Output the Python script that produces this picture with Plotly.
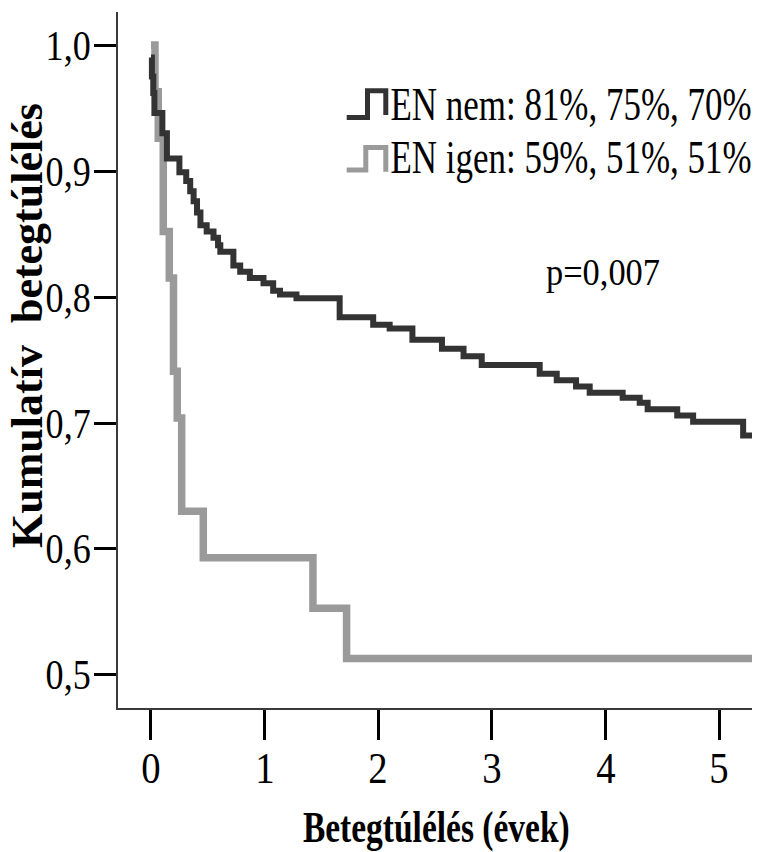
import json
import plotly.graph_objects as go

# ---------------- data ----------------
# Kaplan-Meier steps, "EN nem" group: time of step (years) and survival after it
t_nem = [0.0, 0.008, 0.02, 0.03, 0.10, 0.14, 0.25, 0.31, 0.345, 0.375, 0.405,
         0.435, 0.49, 0.55, 0.59, 0.61, 0.725, 0.785, 0.87, 0.99, 1.075, 1.135,
         1.28, 1.66, 1.955, 2.10, 2.30, 2.56, 2.75, 2.91, 3.42, 3.57, 3.74,
         3.86, 4.15, 4.30, 4.37, 4.63, 4.77, 5.21, 5.288]
s_nem = [0.990, 0.975, 0.962, 0.946, 0.930, 0.910, 0.899, 0.892, 0.884, 0.876,
         0.867, 0.857, 0.852, 0.847, 0.841, 0.836, 0.825, 0.820, 0.815, 0.811,
         0.805, 0.802, 0.799, 0.784, 0.778, 0.775, 0.766, 0.759, 0.753, 0.746,
         0.739, 0.734, 0.729, 0.724, 0.720, 0.716, 0.711, 0.706, 0.701, 0.690,
         0.690]

# "EN igen" group
t_igen = [0.0, 0.035, 0.064, 0.108, 0.161, 0.198, 0.231, 0.27, 0.46, 1.425,
          1.721, 5.288]
s_igen = [1.000, 0.963, 0.926, 0.852, 0.815, 0.741, 0.704, 0.630, 0.593,
          0.553, 0.513, 0.513]

x_tickvals = [0, 1, 2, 3, 4, 5]
x_ticktext = ["0", "1", "2", "3", "4", "5"]
y_tickvals = [0.5, 0.6, 0.7, 0.8, 0.9, 1.0]
y_ticktext = ["0,5", "0,6", "0,7", "0,8", "0,9", "1,0"]

legend_labels = ["EN nem: 81%, 75%, 70%", "EN igen: 59%, 51%, 51%"]
p_label = "p=0,007"
x_title = "Betegtúlélés (évek)"
y_title = "Kumulatív  betegtúlélés"

# ---------------- style / layout ----------------
W, H = 758, 852
ML, MR, MT, MB = 118, 6, 12, 144
PW, PH = W - ML - MR, H - MT - MB
DARK = "#333333"
GRAY = "#9a9a9a"
FONT = "Liberation Serif"


def px(xp):
    return (xp - ML) / PW


def py(yp):
    return (H - MB - yp) / PH


fig = go.Figure()
fig.add_trace(go.Scatter(x=t_igen, y=s_igen, mode="lines", name=legend_labels[1],
                         line=dict(color=GRAY, width=7.5, shape="hv")))
fig.add_trace(go.Scatter(x=t_nem, y=s_nem, mode="lines", name=legend_labels[0],
                         line=dict(color=DARK, width=6, shape="hv")))


def step_glyph(x0, x1, x2, yb, yt, ye, color):
    path = (f"M {px(x0)},{py(yb)} L {px(x1)},{py(yb)} L {px(x1)},{py(yt)} "
            f"L {px(x2)},{py(yt)} L {px(x2)},{py(ye)}")
    return dict(type="path", xref="paper", yref="paper", path=path,
                line=dict(color=color, width=5))


shapes = [
    step_glyph(346.7, 367.5, 385.8, 117.5, 90.8, 115.0, DARK),
    step_glyph(346.7, 365.8, 385.8, 170.0, 147.5, 171.7, GRAY),
]

annotations = []
squeeze = []   # horizontal condensing factor per annotation (reference type is condensed)


def add_ann(factor, **kw):
    base = dict(showarrow=False, borderpad=0)
    base.update(kw)
    annotations.append(base)
    squeeze.append(factor)


add_ann(0.744, text=legend_labels[0], x=px(753), y=py(104.1), xref="paper", yref="paper",
        xanchor="right", yanchor="middle", align="right",
        font=dict(family=FONT, size=47, color="black"))
add_ann(0.744, text=legend_labels[1], x=px(753), y=py(157.1), xref="paper", yref="paper",
        xanchor="right", yanchor="middle", align="right",
        font=dict(family=FONT, size=47, color="black"))
add_ann(0.93, text=p_label, x=px(545), y=py(272.5), xref="paper", yref="paper",
        xanchor="left", yanchor="middle", align="left",
        font=dict(family=FONT, size=37, color="black"))
add_ann(0.744, text="<b>" + x_title + "</b>", x=px(436), y=py(826.8), xref="paper",
        yref="paper", xanchor="center", yanchor="middle",
        font=dict(family=FONT, size=45, color="black"))
add_ann(1.0, text="<b>" + y_title + "</b>", x=px(27), y=py(326), xref="paper", yref="paper",
        xanchor="center", yanchor="middle", textangle=-90,
        font=dict(family=FONT, size=44, color="black"))

# tick labels (drawn as annotations so they can be condensed like the reference)
for v, lab in zip(x_tickvals, x_ticktext):
    add_ann(0.88, text=lab, x=v, y=py(768.2), xref="x", yref="paper",
            xanchor="center", yanchor="middle",
            font=dict(family=FONT, size=44, color="black"))
for v, lab in zip(y_tickvals, y_ticktext):
    add_ann(0.84, text=lab, x=px(92), y=v, xref="paper", yref="y",
            xanchor="right", yanchor="middle", align="right",
            font=dict(family=FONT, size=43, color="black"))

fig.update_layout(
    width=W, height=H,
    margin=dict(l=ML, r=MR, t=MT, b=MB, pad=0),
    paper_bgcolor="white", plot_bgcolor="white",
    showlegend=False,
    shapes=shapes,
    annotations=annotations,
    font=dict(family=FONT, color="black"),
)

fig.update_xaxes(
    range=[-0.2903, 5.288], tickmode="array", tickvals=x_tickvals, ticktext=x_ticktext,
    showticklabels=False,
    ticks="outside", ticklen=30, tickwidth=3, tickcolor="black",
    showline=True, linecolor="#3a3a3a", linewidth=2,
    showgrid=False, zeroline=False,
)
fig.update_yaxes(
    range=[0.4738, 1.0262], tickmode="array", tickvals=y_tickvals, ticktext=y_ticktext,
    showticklabels=False,
    ticks="outside", ticklen=22, tickwidth=2.5, tickcolor="black",
    showline=True, linecolor="#3a3a3a", linewidth=2,
    showgrid=False, zeroline=False,
)

# condense glyphs horizontally around each text's anchor point
post_js = """
document.body.style.margin = '0';
var gd = document.getElementById('{plot_id}');
var fac = FACTORS;
function squeezeAll() {
  gd.querySelectorAll('g.annotation').forEach(function (g) {
    var i = +g.getAttribute('data-index');
    var el = g.querySelector('text.annotation-text');
    var f = fac[i];
    if (!el || f === undefined || f === 1 || el.getAttribute('data-sq')) return;
    var ax = parseFloat(el.getAttribute('x')) || 0;
    var prev = el.getAttribute('transform') || '';
    el.setAttribute('transform', prev + ' translate(' + ax + ',0) scale(' + f + ',1) translate(' + (-ax) + ',0)');
    el.setAttribute('data-sq', '1');
  });
}
squeezeAll();
if (gd.on) gd.on('plotly_afterplot', squeezeAll);
""".replace("FACTORS", json.dumps(squeeze))

fig.write_html("out.html", post_script=post_js, config={"displayModeBar": False})
